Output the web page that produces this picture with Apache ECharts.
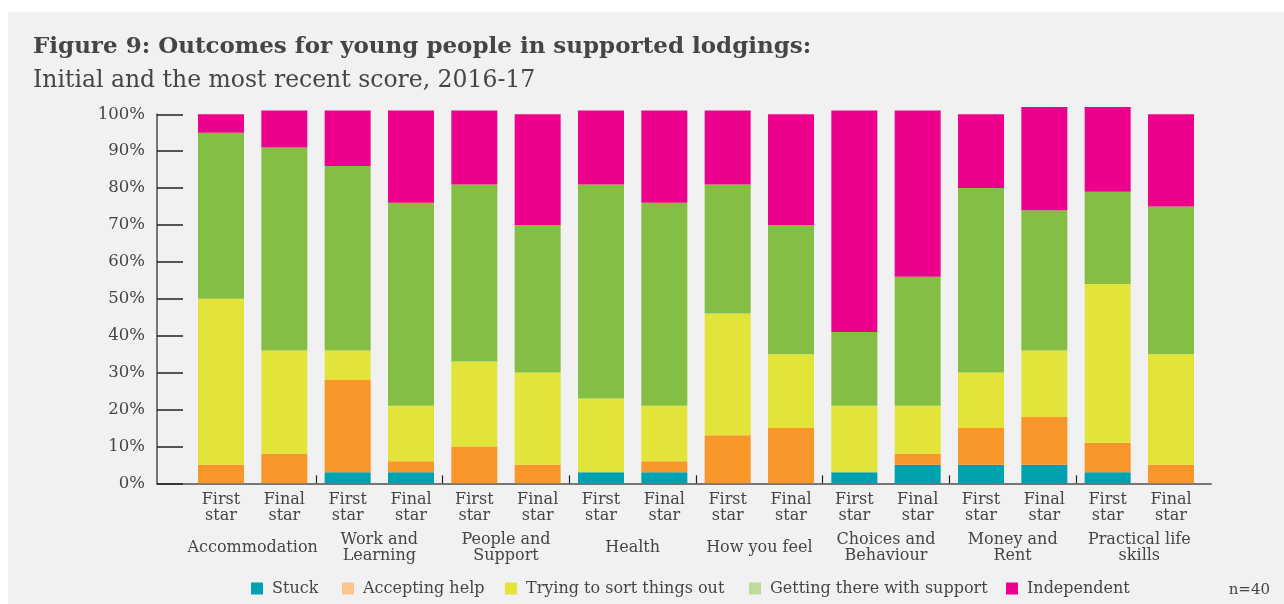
<!DOCTYPE html>
<html>
<head>
<meta charset="utf-8">
<script src="https://cdn.jsdelivr.net/npm/echarts@6.0.0/dist/echarts.min.js"></script>
<style>
  html, body { margin: 0; padding: 0; background: #ffffff; }
  #panel { position: absolute; left: 8px; top: 12px; right: 0; bottom: 0; background: #f1f1f1; }
  #chart { position: absolute; left: 0; top: 0; width: 1284px; height: 604px; }
</style>
</head>
<body>
<div id="panel"></div>
<div id="chart"></div>
<script>
// Outcome areas (each has a first-star and final-star bar)
const groups = ['Accommodation', 'Work and\nLearning', 'People and\nSupport', 'Health',
  'How you feel', 'Choices and\nBehaviour', 'Money and\nRent', 'Practical life\nskills'];
const stages = ['First\nstar', 'Final\nstar'];
const categories = groups.flatMap(g => stages.map(s => g.replace('\n', ' ') + ' / ' + s.replace('\n', ' ')));

// Percentage of young people at each stage, in bar order
const stuck       = [0, 0, 3, 3, 0, 0, 3, 3, 0, 0, 3, 5, 5, 5, 3, 0];
const accepting   = [5, 8, 25, 3, 10, 5, 0, 3, 13, 15, 0, 3, 10, 13, 8, 5];
const trying      = [45, 28, 8, 15, 23, 25, 20, 15, 33, 20, 18, 13, 15, 18, 43, 30];
const getting     = [45, 55, 50, 55, 48, 40, 58, 55, 35, 35, 20, 35, 50, 38, 25, 40];
const independent = [5, 10, 15, 25, 20, 30, 20, 25, 20, 30, 60, 45, 20, 28, 23, 25];

const yTicks = [0, 10, 20, 30, 40, 50, 60, 70, 80, 90, 100];

const seriesDefs = [
  { name: 'Stuck', data: stuck, color: '#00a1b0', legendColor: '#00a1b0', legendLeft: 251 },
  { name: 'Accepting help', data: accepting, color: '#f99629', legendColor: '#fdc48e', legendLeft: 342 },
  { name: 'Trying to sort things out', data: trying, color: '#e2e43a', legendColor: '#e2e43a', legendLeft: 505 },
  { name: 'Getting there with support', data: getting, color: '#84be43', legendColor: '#bedb9c', legendLeft: 749 },
  { name: 'Independent', data: independent, color: '#ec008c', legendColor: '#ec008c', legendLeft: 1006 }
];

// Layout
const W = 1284;
const TEXT = '#454545';
const FONT = 'DejaVu Serif';
const plotTop = 114.3, plotBottom = 120.7;
const barsLeft = 189.33, barsRight = 81.33;   // band area of the bars
const axisLeft = 157, axisRight = 73;          // drawn axes
const band = (W - barsRight - barsLeft) / categories.length;
const axisMin = -0.5 - (barsLeft - axisLeft) / band;
const axisMax = categories.length - 0.5 + (barsRight - axisRight) / band;

const groupCenters = groups.map((g, i) => i * 2 + 0.5);
const groupBounds = groups.slice(1).map((g, i) => i * 2 + 1.5);

const chart = echarts.init(document.getElementById('chart'), null, { renderer: 'canvas' });

chart.setOption({
  backgroundColor: 'transparent',
  animation: false,
  textStyle: { fontFamily: FONT, color: TEXT },
  title: [
    { text: 'Figure 9: Outcomes for young people in supported lodgings:', left: 33, top: 34, padding: 0,
      textStyle: { fontFamily: FONT, fontWeight: 'bold', fontSize: 23, lineHeight: 26, color: TEXT } },
    { text: 'Initial and the most recent score, 2016-17', left: 33, top: 68, padding: 0,
      textStyle: { fontFamily: FONT, fontWeight: 'normal', fontSize: 23.5, lineHeight: 26, color: TEXT } },
    { text: 'n=40', right: 14, top: 581, padding: 0,
      textStyle: { fontFamily: FONT, fontWeight: 'normal', fontSize: 15, lineHeight: 18, color: TEXT } }
  ],
  legend: seriesDefs.map(s => ({
    left: s.legendLeft, top: 580.5, padding: 0,
    itemWidth: 12, itemHeight: 12, icon: 'rect', selectedMode: false,
    textStyle: { fontFamily: FONT, fontSize: 16, lineHeight: 16, color: TEXT, padding: [0, 0, 0, 4] },
    data: [{ name: s.name, itemStyle: { color: s.legendColor } }]
  })),
  grid: [
    { left: barsLeft, right: barsRight, top: plotTop, bottom: plotBottom, containLabel: false },
    { left: axisLeft, right: axisRight, top: plotTop, bottom: plotBottom, containLabel: false }
  ],
  xAxis: [
    { // bars and their stage labels
      type: 'category', gridIndex: 0, data: categories, boundaryGap: true,
      axisLine: { show: false }, axisTick: { show: false },
      axisLabel: { interval: 0, margin: 9, fontSize: 16, lineHeight: 16, color: TEXT, fontFamily: FONT,
        formatter: (v, i) => stages[i % 2] }
    },
    { // drawn baseline, group boundary ticks
      type: 'value', gridIndex: 1, position: 'bottom', min: axisMin, max: axisMax,
      splitLine: { show: false },
      axisLine: { show: true, onZero: false, lineStyle: { color: '#767676', width: 2 } },
      axisTick: { show: true, inside: true, length: 8, customValues: groupBounds,
        lineStyle: { color: '#222', width: 1.2 } },
      axisLabel: { show: false }
    },
    { // outcome area names
      type: 'value', gridIndex: 1, position: 'bottom', min: axisMin, max: axisMax,
      splitLine: { show: false }, axisLine: { show: false }, axisTick: { show: false },
      axisLabel: { show: true, customValues: groupCenters, margin: 64.7, verticalAlign: 'middle',
        fontSize: 16, lineHeight: 16, color: TEXT, fontFamily: FONT,
        formatter: v => groups[Math.round((v - 0.5) / 2)] }
    }
  ],
  yAxis: [
    { type: 'value', gridIndex: 0, min: 0, max: 100, show: false },
    { type: 'value', gridIndex: 1, min: 0, max: 100, interval: 10,
      splitLine: { show: false },
      axisLine: { show: true, onZero: false, lineStyle: { color: '#767676', width: 2 } },
      axisTick: { show: true, inside: true, length: 26, customValues: yTicks,
        lineStyle: { color: '#222', width: 1.5 } },
      axisLabel: { margin: 12, fontSize: 16.5, color: TEXT, fontFamily: FONT, formatter: '{value}%' }
    }
  ],
  series: seriesDefs.map(s => ({
    name: s.name, type: 'bar', stack: 'share', xAxisIndex: 0, yAxisIndex: 0,
    barWidth: 46, clip: false, data: s.data,
    itemStyle: { color: s.color }
  }))
});
</script>
</body>
</html>
